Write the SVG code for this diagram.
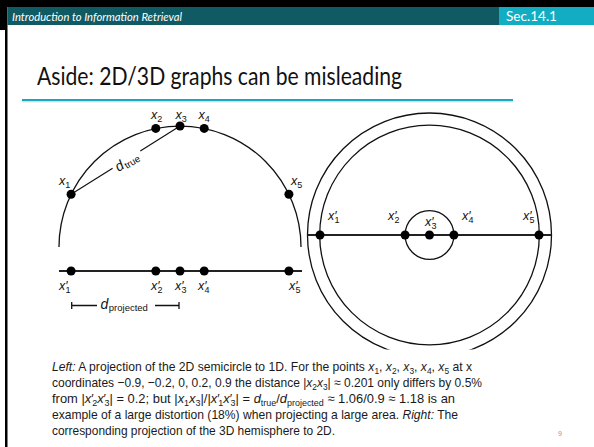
<svg xmlns="http://www.w3.org/2000/svg" width="594" height="447" viewBox="0 0 594 447">
<style>
.lab{font-family:"Liberation Sans",Arial,sans-serif;font-size:12.5px;font-style:italic;fill:#111}
.sub{font-size:9px;font-style:normal}
.dl{font-size:14px}
.dsub{font-size:9.5px;font-style:normal}
.cap{font-family:"Liberation Sans",Arial,sans-serif;font-size:13px;fill:#1a1a1a}
.it{font-style:italic}
.csub{font-size:9px}
.curve{fill:none;stroke:#111;stroke-width:1.3}
.axis{fill:none;stroke:#222;stroke-width:2}
.chord{fill:none;stroke:#111;stroke-width:1.2}
.dot{fill:#000}
</style>
<defs>
<clipPath id="capclip"><rect x="290" y="100" width="300" height="249.5"/></clipPath>
</defs>
<rect width="594" height="447" fill="#fff"/>
<g id="frame">
<rect x="0" y="0" width="594" height="7" fill="#000"/>
<rect x="0" y="0" width="7" height="30" fill="#000"/>
<rect x="5" y="0" width="2.5" height="447" fill="#000"/>
</g>
<g id="header">
<rect x="7.5" y="7" width="492" height="18" fill="#0f5a63"/>
<rect x="499" y="7" width="95" height="18" fill="#13adc3"/>
<text x="12" y="20.5" font-family="Lato,'Open Sans',sans-serif" font-style="italic" font-size="11" fill="#fff" textLength="170" lengthAdjust="spacingAndGlyphs">Introduction to Information Retrieval</text>
<text x="506" y="20.8" font-family="Lato,'Open Sans',sans-serif" font-size="12.5" fill="#fff" textLength="51" lengthAdjust="spacingAndGlyphs">Sec.14.1</text>
</g>
<g id="title">
<text x="37" y="85" font-family="Lato,'Open Sans',sans-serif" font-size="25" fill="#111" textLength="365" lengthAdjust="spacingAndGlyphs">Aside: 2D/3D graphs can be misleading</text>
<line x1="22" y1="100" x2="513" y2="100" stroke="#1aa8bf" stroke-width="2"/>
<line x1="22" y1="101.8" x2="513" y2="101.8" stroke="#ccc" stroke-width="1"/>
</g>

<g id="connectors">
<path class="curve" d="M59 247 A121 121 0 0 1 301 247"/>
<path class="axis" d="M59 271 H302"/>
<path class="chord" d="M71.1 194.3 L112.6 168.3 M140.3 150.9 L180 126"/>
<g id="bracket" fill="none" stroke="#111" stroke-width="1.3">
<path d="M71.7 302 V309 M71.7 305.5 H97 M155 305.5 H179 M179 302 V309"/>
</g>
<g clip-path="url(#capclip)">
<circle class="curve" cx="429.5" cy="235" r="122"/>
<circle class="curve" cx="429.5" cy="235" r="109.8"/>
<circle class="curve" cx="429.5" cy="235" r="24.4"/>
<path class="axis" d="M307.5 235 H551.5"/>
</g>
</g>

<g id="dtrue-label">
<text class="lab dl" transform="translate(127,162) rotate(-32.1)" text-anchor="middle" y="4">d<tspan class="dsub" dx="1" dy="2">true</tspan></text>
</g>
<g id="dproj-label">
<text class="lab dl" x="100.5" y="308.5">d<tspan class="dsub" dx="0.5" dy="2.5">projected</tspan></text>
</g>

<g id="x1"><circle class="dot" cx="71.1" cy="194.3" r="4.5"/><text class="lab" x="59" y="185">x<tspan class="sub" dy="2.5">1</tspan></text></g>
<g id="x2"><circle class="dot" cx="155.8" cy="128.4" r="4.5"/><text class="lab" x="151" y="119">x<tspan class="sub" dy="2.5">2</tspan></text></g>
<g id="x3"><circle class="dot" cx="180" cy="126" r="4.5"/><text class="lab" x="175.5" y="119">x<tspan class="sub" dy="2.5">3</tspan></text></g>
<g id="x4"><circle class="dot" cx="204.2" cy="128.4" r="4.5"/><text class="lab" x="198.5" y="119">x<tspan class="sub" dy="2.5">4</tspan></text></g>
<g id="x5"><circle class="dot" cx="288.9" cy="194.3" r="4.5"/><text class="lab" x="291" y="185">x<tspan class="sub" dy="2.5">5</tspan></text></g>

<g id="x1p"><circle class="dot" cx="71.1" cy="271" r="4.5"/><text class="lab" x="59" y="290">x′<tspan class="sub" dx="-2" dy="3">1</tspan></text></g>
<g id="x2p"><circle class="dot" cx="155.8" cy="271" r="4.5"/><text class="lab" x="151" y="290">x′<tspan class="sub" dx="-2" dy="3">2</tspan></text></g>
<g id="x3p"><circle class="dot" cx="180" cy="271" r="4.5"/><text class="lab" x="175" y="290">x′<tspan class="sub" dx="-2" dy="3">3</tspan></text></g>
<g id="x4p"><circle class="dot" cx="204.2" cy="271" r="4.5"/><text class="lab" x="198" y="290">x′<tspan class="sub" dx="-2" dy="3">4</tspan></text></g>
<g id="x5p"><circle class="dot" cx="288.9" cy="271" r="4.5"/><text class="lab" x="289" y="290">x′<tspan class="sub" dx="-2" dy="3">5</tspan></text></g>

<g id="r1"><circle class="dot" cx="320" cy="235" r="4.5"/><text class="lab" x="328" y="220">x′<tspan class="sub" dx="-2" dy="3">1</tspan></text></g>
<g id="r2"><circle class="dot" cx="405.1" cy="235" r="4.5"/><text class="lab" x="388" y="220">x′<tspan class="sub" dx="-2" dy="3">2</tspan></text></g>
<g id="r3"><circle class="dot" cx="429.5" cy="235" r="4.5"/><text class="lab" x="425" y="225.5">x′<tspan class="sub" dx="-2" dy="3">3</tspan></text></g>
<g id="r4"><circle class="dot" cx="453.9" cy="235" r="4.5"/><text class="lab" x="462" y="220">x′<tspan class="sub" dx="-2" dy="3">4</tspan></text></g>
<g id="r5"><circle class="dot" cx="539" cy="235" r="4.5"/><text class="lab" x="523" y="220">x′<tspan class="sub" dx="-2" dy="3">5</tspan></text></g>

<g id="caption">
<text class="cap" x="52" y="371" textLength="420" lengthAdjust="spacingAndGlyphs"><tspan class="it">Left:</tspan> A projection of the 2D semicircle to 1D. For the points <tspan class="it">x</tspan><tspan class="csub" dy="2.5">1</tspan><tspan dy="-2.5">, </tspan><tspan class="it">x</tspan><tspan class="csub" dy="2.5">2</tspan><tspan dy="-2.5">, </tspan><tspan class="it">x</tspan><tspan class="csub" dy="2.5">3</tspan><tspan dy="-2.5">, </tspan><tspan class="it">x</tspan><tspan class="csub" dy="2.5">4</tspan><tspan dy="-2.5">, </tspan><tspan class="it">x</tspan><tspan class="csub" dy="2.5">5</tspan><tspan dy="-2.5"> at x</tspan></text>
<text class="cap" x="52" y="387" textLength="430" lengthAdjust="spacingAndGlyphs">coordinates −0.9, −0.2, 0, 0.2, 0.9 the distance |<tspan class="it">x</tspan><tspan class="csub" dy="2.5">2</tspan><tspan class="it" dy="-2.5">x</tspan><tspan class="csub" dy="2.5">3</tspan><tspan dy="-2.5">| ≈ 0.201 only differs by 0.5%</tspan></text>
<text class="cap" x="52" y="403" textLength="403" lengthAdjust="spacingAndGlyphs">from |<tspan class="it">x</tspan>′<tspan class="csub" dx="-1.5" dy="2.5">2</tspan><tspan class="it" dy="-2.5">x</tspan>′<tspan class="csub" dx="-1.5" dy="2.5">3</tspan><tspan dy="-2.5">| = 0.2; but |</tspan><tspan class="it">x</tspan><tspan class="csub" dy="2.5">1</tspan><tspan class="it" dy="-2.5">x</tspan><tspan class="csub" dy="2.5">3</tspan><tspan dy="-2.5">|/|</tspan><tspan class="it">x</tspan>′<tspan class="csub" dx="-1.5" dy="2.5">1</tspan><tspan class="it" dy="-2.5">x</tspan>′<tspan class="csub" dx="-1.5" dy="2.5">3</tspan><tspan dy="-2.5">| = </tspan><tspan class="it">d</tspan><tspan class="csub" dy="2.5">true</tspan><tspan dy="-2.5">/</tspan><tspan class="it">d</tspan><tspan class="csub" dy="2.5">projected</tspan><tspan dy="-2.5"> ≈ 1.06/0.9 ≈ 1.18 is an</tspan></text>
<text class="cap" x="52" y="419" textLength="406" lengthAdjust="spacingAndGlyphs">example of a large distortion (18%) when projecting a large area. <tspan class="it">Right:</tspan> The</text>
<text class="cap" x="52" y="435" textLength="283" lengthAdjust="spacingAndGlyphs">corresponding projection of the 3D hemisphere to 2D.</text>
</g>
<text x="558" y="436" font-family="'Liberation Sans',sans-serif" font-size="7" fill="#999">9</text>
</svg>
